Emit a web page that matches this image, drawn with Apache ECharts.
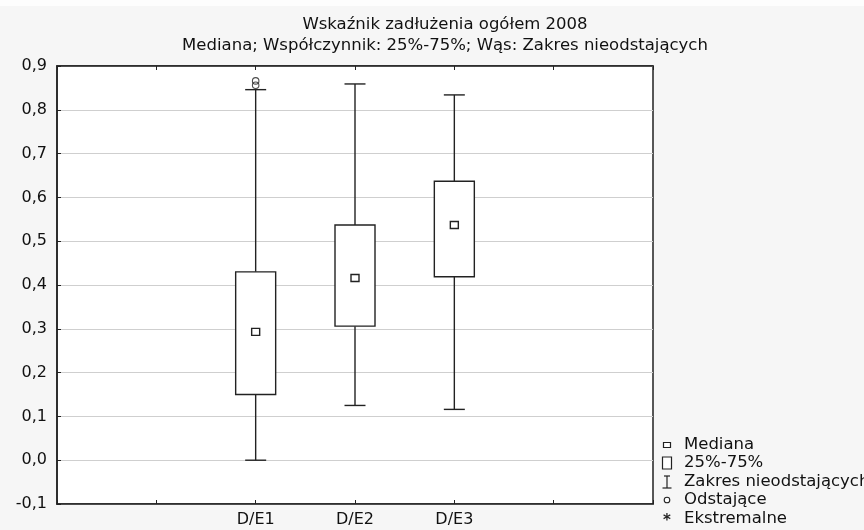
<!DOCTYPE html>
<html>
<head>
<meta charset="utf-8">
<script src="https://cdn.jsdelivr.net/npm/echarts@6/dist/echarts.min.js"></script>
<style>html,body{margin:0;padding:0;background:#f6f6f6;}#c{width:864px;height:530px;}</style>
</head>
<body>
<div id="c"></div>
<script>
const axisCategories = ['', '', 'D/E1', 'D/E2', 'D/E3', '', ''];
const boxCategories = ['D/E1', 'D/E2', 'D/E3'];
const mins = [0.000, 0.125, 0.116];
const q1s = [0.150, 0.306, 0.419];
const medians = [0.293, 0.416, 0.537];
const q3s = [0.430, 0.537, 0.637];
const maxs = [0.846, 0.859, 0.834];
const outlierCats = ['D/E1', 'D/E1'];
const outlierVals = [0.856, 0.866];
const titleLines = ['Wskaźnik zadłużenia ogółem 2008', 'Mediana; Współczynnik: 25%-75%; Wąs: Zakres nieodstających'];
const legendLabels = ['Mediana', '25%-75%', 'Zakres nieodstających', 'Odstające', 'Ekstremalne'];

const FONT = 'DejaVu Sans';
const INK = '#222';

const boxData = boxCategories.map((c, i) => [axisCategories.indexOf(c), mins[i], q1s[i], medians[i], q3s[i], maxs[i]]);
const outlierData = outlierCats.map((c, i) => [axisCategories.indexOf(c), outlierVals[i]]);

function renderBox(params, api) {
  const x = api.value(0);
  const pMin = api.coord([x, api.value(1)]);
  const pQ1 = api.coord([x, api.value(2)]);
  const pMed = api.coord([x, api.value(3)]);
  const pQ3 = api.coord([x, api.value(4)]);
  const pMax = api.coord([x, api.value(5)]);
  const cx = pMed[0];
  const hw = 20, cw = 10.5;
  const ls = { stroke: INK, lineWidth: 1.4, fill: null };
  return {
    type: 'group',
    children: [
      { type: 'line', shape: { x1: cx, y1: pMax[1], x2: cx, y2: pQ3[1] }, style: ls },
      { type: 'line', shape: { x1: cx, y1: pQ1[1], x2: cx, y2: pMin[1] }, style: ls },
      { type: 'line', shape: { x1: cx - cw, y1: pMax[1], x2: cx + cw, y2: pMax[1] }, style: ls },
      { type: 'line', shape: { x1: cx - cw, y1: pMin[1], x2: cx + cw, y2: pMin[1] }, style: ls },
      { type: 'rect', shape: { x: cx - hw, y: pQ3[1], width: 2 * hw, height: pQ1[1] - pQ3[1] }, style: { stroke: INK, lineWidth: 1.4, fill: '#fff' } },
      { type: 'rect', shape: { x: cx - 4, y: pMed[1] - 3.5, width: 8, height: 7 }, style: { stroke: INK, lineWidth: 1.4, fill: '#fff' } }
    ]
  };
}

const legendRowY = [445, 463, 482, 500, 519];
const legendTextX = 684;
const legendSymX = 667;
const legendGraphics = [];
legendLabels.forEach((t, i) => {
  legendGraphics.push({ type: 'text', x: legendTextX, y: legendRowY[i], style: { text: t, font: '16.5px "' + FONT + '"', fill: '#111', verticalAlign: 'middle' } });
});
const sy = legendRowY;
legendGraphics.push(
  { type: 'rect', shape: { x: legendSymX - 3.5, y: sy[0] - 2.5, width: 7, height: 5 }, style: { stroke: INK, lineWidth: 1.2, fill: '#fff' } },
  { type: 'rect', shape: { x: legendSymX - 4.5, y: sy[1] - 6, width: 9, height: 12 }, style: { stroke: INK, lineWidth: 1.2, fill: '#fff' } },
  { type: 'line', shape: { x1: legendSymX - 3, y1: sy[2] - 6, x2: legendSymX + 3, y2: sy[2] - 6 }, style: { stroke: INK, lineWidth: 1.2 } },
  { type: 'line', shape: { x1: legendSymX, y1: sy[2] - 6, x2: legendSymX, y2: sy[2] + 6 }, style: { stroke: INK, lineWidth: 1.2 } },
  { type: 'line', shape: { x1: legendSymX - 4.5, y1: sy[2] + 6, x2: legendSymX + 4.5, y2: sy[2] + 6 }, style: { stroke: INK, lineWidth: 1.2 } },
  { type: 'circle', shape: { cx: legendSymX, cy: sy[3], r: 2.8 }, style: { stroke: INK, lineWidth: 1.1, fill: '#fff' } },
  { type: 'text', x: legendSymX, y: sy[4] + 2, style: { text: '*', font: 'bold 15px "' + FONT + '"', fill: INK, align: 'center', verticalAlign: 'middle' } }
);

const chart = echarts.init(document.getElementById('c'), null, { renderer: 'canvas' });
chart.setOption({
  backgroundColor: '#f6f6f6',
  animation: false,
  textStyle: { fontFamily: FONT },
  graphic: [
    { type: 'rect', left: 0, top: 0, shape: { width: 864, height: 6 }, style: { fill: '#fdfdfd' } },
    { type: 'text', x: 445, y: 25, style: { text: titleLines[0], font: '16.5px "' + FONT + '"', fill: '#111', align: 'center', verticalAlign: 'middle' } },
    { type: 'text', x: 445, y: 46, style: { text: titleLines[1], font: '16.5px "' + FONT + '"', fill: '#111', align: 'center', verticalAlign: 'middle' } }
  ].concat(legendGraphics),
  grid: { left: 57, right: 211, top: 66, bottom: 26, show: true, backgroundColor: '#fff', borderColor: INK, borderWidth: 1.5 },
  xAxis: [
    {
      type: 'category', data: axisCategories, boundaryGap: false, position: 'bottom',
      axisLine: { show: true, onZero: false, lineStyle: { color: INK, width: 1.5 } },
      axisTick: { show: true, inside: true, length: 4, lineStyle: { color: INK } },
      axisLabel: { show: true, color: '#111', fontSize: 16, fontFamily: FONT, margin: 8 },
      splitLine: { show: false }
    },
    {
      type: 'category', data: axisCategories, boundaryGap: false, position: 'top',
      axisLine: { show: true, onZero: false, lineStyle: { color: INK, width: 1.5 } },
      axisTick: { show: true, inside: true, length: 4, lineStyle: { color: INK } },
      axisLabel: { show: false }
    }
  ],
  yAxis: {
    type: 'value', min: -0.1, max: 0.9, interval: 0.1,
    axisLine: { show: true, lineStyle: { color: INK, width: 1.5 } },
    axisTick: { show: true, inside: true, length: 4, lineStyle: { color: INK } },
    axisLabel: {
      color: '#111', fontSize: 16, fontFamily: FONT, margin: 10,
      formatter: v => (Math.abs(v) < 1e-9 ? 0 : v).toFixed(1).replace('.', ',')
    },
    splitLine: { show: true, lineStyle: { color: '#cfcfcf', width: 1.2 } }
  },
  series: [
    { type: 'custom', renderItem: renderBox, data: boxData, encode: { x: 0, y: [1, 2, 3, 4, 5] }, z: 3 },
    { type: 'scatter', data: outlierData, symbol: 'circle', symbolSize: 6.5, itemStyle: { color: 'rgba(255,255,255,0)', borderColor: INK, borderWidth: 1.1 }, z: 4 }
  ]
});
</script>
</body>
</html>
